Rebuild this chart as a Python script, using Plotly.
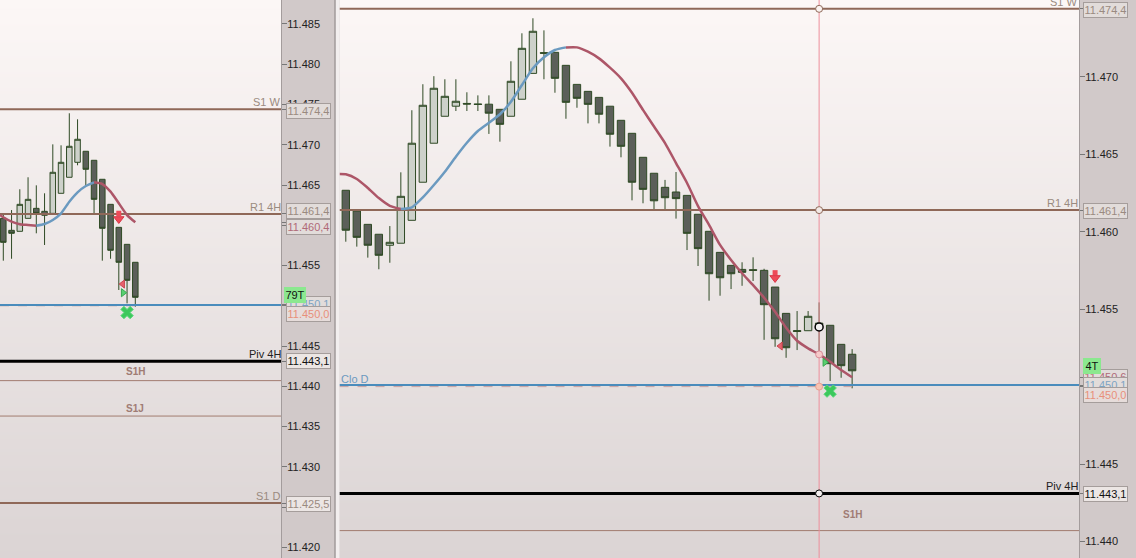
import plotly.graph_objects as go

W, H = 1136, 558

# ---- right panel data ----
r_open = [11.46268,11.46134,11.46048,11.45984,11.45913,11.45926,11.46074,11.46320,11.46572,11.46746,11.46811,11.46829,11.46826,11.46824,11.46791,11.46746,11.46856,11.47023,11.47157,11.47159,11.47075,11.46952,11.46907,11.46868,11.46811,11.46720,11.46636,11.46481,11.46378,11.46287,11.46257,11.46235,11.46113,11.46003,11.45867,11.45783,11.45757,11.45755,11.45751,11.45643,11.45473,11.45362,11.45361,11.45410,11.45396,11.45273,11.45209]
r_high = [11.46268,11.46134,11.46048,11.45984,11.46037,11.46384,11.46785,11.46953,11.47005,11.46985,11.46985,11.46901,11.46881,11.46881,11.46791,11.47101,11.47282,11.47379,11.47301,11.47159,11.47075,11.46952,11.46907,11.46868,11.46811,11.46720,11.46636,11.46481,11.46378,11.46335,11.46386,11.46235,11.46113,11.46003,11.45867,11.45783,11.45803,11.45835,11.45761,11.45643,11.45473,11.45488,11.45488,11.45544,11.45396,11.45273,11.45242]
r_low = [11.45936,11.45904,11.45833,11.45758,11.45800,11.45926,11.46074,11.46320,11.46572,11.46746,11.46780,11.46780,11.46780,11.46632,11.46582,11.46746,11.46856,11.47023,11.46985,11.46898,11.46730,11.46801,11.46700,11.46700,11.46550,11.46481,11.46203,11.46184,11.46141,11.46141,11.46085,11.45882,11.45779,11.45555,11.45587,11.45630,11.45651,11.45682,11.45302,11.45257,11.45186,11.45236,11.45361,11.45210,11.45036,11.45057,11.44989]
r_close = [11.46010,11.45964,11.45913,11.45848,11.45932,11.46229,11.46572,11.46817,11.46927,11.46875,11.46843,11.46825,11.46822,11.46766,11.46694,11.46972,11.47185,11.47295,11.47153,11.46991,11.46836,11.46862,11.46823,11.46759,11.46630,11.46552,11.46320,11.46274,11.46200,11.46220,11.46214,11.45990,11.45891,11.45729,11.45703,11.45729,11.45738,11.45751,11.45529,11.45309,11.45251,11.45356,11.45454,11.45398,11.45148,11.45135,11.45102]
r_index = list(range(len(r_open)))

r_ma_red1_x = [-0.57, 0, 1, 2, 3, 4, 5]
r_ma_red1 = [11.46373, 11.46371, 11.46341, 11.46283, 11.46218, 11.46168, 11.46147]
r_ma_blue_x = [5, 6, 7, 8, 9, 10, 11, 12, 13, 14, 15, 16, 17, 18, 19, 20]
r_ma_blue = [11.46147, 11.46158, 11.46222, 11.46302, 11.46388, 11.46485, 11.46575, 11.46651, 11.46704, 11.46759, 11.46840, 11.46948, 11.47056, 11.47127, 11.47174, 11.47191]
r_ma_red2_x = [20, 21, 22, 23, 24, 25, 26, 27, 28, 29, 30, 31, 32, 33, 34, 35, 36, 37, 38, 39, 40, 41, 42, 43, 44, 45, 46]
r_ma_red2 = [11.47191, 11.47191, 11.47163, 11.47120, 11.47060, 11.46991, 11.46898, 11.46787, 11.46680, 11.46573, 11.46444, 11.46315, 11.46166, 11.46044, 11.45915, 11.45818, 11.45732, 11.45656, 11.45574, 11.45483, 11.45380, 11.45296, 11.45247, 11.45208, 11.45160, 11.45107, 11.45060]

# ---- left panel data ----
l_open = [11.46086,11.45937,11.45925,11.46086,11.46210,11.46173,11.46148,11.46397,11.46596,11.46782,11.46919,11.46807,11.46571,11.46260,11.45974,11.45763,11.45540]
l_high = [11.46140,11.46189,11.46447,11.46596,11.46496,11.46397,11.47005,11.46993,11.47391,11.47316,11.46919,11.46807,11.46571,11.46260,11.45974,11.45763,11.45540]
l_low = [11.45560,11.45584,11.45925,11.46086,11.45900,11.45755,11.46148,11.46397,11.46596,11.46745,11.46484,11.46148,11.45560,11.45584,11.45196,11.45030,11.44988]
l_close = [11.45788,11.45900,11.46260,11.46322,11.46148,11.46124,11.46658,11.46782,11.46981,11.47068,11.46695,11.46322,11.45962,11.45689,11.45540,11.45316,11.45105]
l_index = list(range(len(l_open)))

l_ma_red1_x = [-0.4, 0, 1, 2, 3, 4]
l_ma_red1 = [11.46127, 11.46099, 11.46044, 11.46012, 11.46003, 11.45994]
l_ma_blue_x = [4, 5, 6, 7, 8, 9, 10, 11]
l_ma_blue = [11.45994, 11.46015, 11.46065, 11.46148, 11.46292, 11.46409, 11.46487, 11.46533]
l_ma_red2_x = [11, 12, 13, 14, 15, 16]
l_ma_red2 = [11.46533, 11.46512, 11.46417, 11.46273, 11.46127, 11.46037]

# ---- levels ----
level_s1w = 11.4744
level_r14h = 11.4614
level_ma_left = 11.4604
level_ma_right = 11.4506
level_clod = 11.4501
level_pending = 11.4500
level_piv = 11.4431
level_s1h = 11.4407
level_s1j = 11.4363
level_s1d = 11.4255

left_ticks = [11.485, 11.48, 11.475, 11.47, 11.465, 11.46, 11.455, 11.45, 11.445, 11.44, 11.435, 11.43, 11.425, 11.42]
left_tick_text = ["11.485", "11.480", "11.475", "11.470", "11.465", "11.460", "11.455", "11.450", "11.445", "11.440", "11.435", "11.430", "11.425", "11.420"]
right_ticks = [11.47, 11.465, 11.46, 11.455, 11.45, 11.445, 11.44]
right_tick_text = ["11.470", "11.465", "11.460", "11.455", "11.450", "11.445", "11.440"]
left_level_ticks = [level_s1w, level_r14h, level_ma_left, level_clod, level_piv, level_s1d]
right_level_ticks = [level_s1w, level_r14h, level_ma_right, level_clod, level_pending, level_piv]

# ---- signal markers ----
l_arrow_x, l_arrow_head, l_arrow_stem = [14], [11.46078], [11.46146]
l_tri_red_x, l_tri_red_y = [14.47], [11.4527]
l_tri_green_x, l_tri_green_y = [14.53], [11.45162]
l_cross_x, l_cross_y = [15], [11.44916]

r_arrow_x, r_arrow_head, r_arrow_stem = [39], [11.45702], [11.45734]
r_tri_red_x, r_tri_red_y = [39.49], [11.45262]
r_tri_green_x, r_tri_green_y = [43.52], [11.45157]
r_cross_x, r_cross_y = [44], [11.44971]

cursor_index = 43
cursor_levels = [11.4744, 11.4614, 11.45208, 11.4500, 11.4431]
cursor_fill = ["#fbf3f0", "#f3e9e6", "#f6c9c9", "#f6c4b4", "#f4eeee"]
cursor_edge = ["#8f6a5a", "#8f6a5a", "#d88c98", "#e8a090", "#000000"]
cursor_black_y = [11.45385]

left_dash_end = 16
right_dash_end = 46

# ---- styles ----
BROWN = "#8f6858"
THIN = "#a27c70"
RED = "#ad5668"
BLUE = "#6b9ac0"
LEVEL_BLUE = "#4a8cbc"
CANDLE_EDGE = "#2f4a25"
DARK = "#5b5f59"
LIGHT = "#cdd1ca"
LABEL = "#9a8a80"
STRIP = "#d1c9c9"
FONT = "Liberation Sans"

L_RANGE = [-0.4, 33.66]
R_RANGE = [-0.573, 66.61]
L_Y = [11.41867, 11.48798]
R_Y = [11.43893, 11.47497]


def px(x):
    return x / W


fig = go.Figure()


def background(xa, ya, xr, yr):
    fig.add_trace(go.Heatmap(
        x=xr, y=yr, z=[[0, 0], [1, 1]], xaxis=xa, yaxis=ya, zsmooth="best",
        showscale=False, hoverinfo="skip", zmin=0, zmax=1,
        colorscale=[[0, "#dbd4d4"], [1, "#fcf7f6"]]))


def candles(xa, ya, x, o, h, l, c):
    fig.add_trace(go.Candlestick(
        x=x, open=o, high=h, low=l, close=c, xaxis=xa, yaxis=ya, whiskerwidth=0,
        increasing=dict(fillcolor=LIGHT, line=dict(color=CANDLE_EDGE, width=1)),
        decreasing=dict(fillcolor=DARK, line=dict(color=CANDLE_EDGE, width=1))))


def line(xa, ya, x, y, color, width=2.5):
    fig.add_trace(go.Scatter(x=x, y=y, xaxis=xa, yaxis=ya, mode="lines",
                             line=dict(color=color, width=width, shape="spline", smoothing=0.6)))


def level(xa, ya, xr, y, color, width, dash="solid"):
    fig.add_trace(go.Scatter(x=xr, y=[y, y], xaxis=xa, yaxis=ya, mode="lines",
                             line=dict(color=color, width=width, dash=dash)))


def marks(xa, ya, x, y, symbol, size, color, edge=None, ew=1):
    fig.add_trace(go.Scatter(x=x, y=y, xaxis=xa, yaxis=ya, mode="markers",
                             marker=dict(symbol=symbol, size=size, color=color,
                                         line=dict(color=edge or color, width=ew))))


def signals(xa, ya, ax, ah, ast, trx, try_, tgx, tgy, cx, cy):
    marks(xa, ya, ax, ast, "line-ns", 4, "#ee4a58", "#ee4a58", 5)
    marks(xa, ya, ax, ah, "triangle-down", 9, "#ee4a58", "#d83848", 1)
    marks(xa, ya, trx, try_, "triangle-left", 7, "#e8606c", "#c84850", 1)
    marks(xa, ya, tgx, tgy, "triangle-right", 7, "#58d070", "#38a850", 1)
    marks(xa, ya, cx, cy, "x", 11, "#3cc85c", "#5cd87c", 1)


background("x", "y", [-5, 40], L_Y)
candles("x", "y", l_index, l_open, l_high, l_low, l_close)
level("x", "y", [L_RANGE[0], left_dash_end], level_pending, "#c8a0a0", 1, "dash")
level("x", "y", L_RANGE, level_clod, LEVEL_BLUE, 2)
level("x", "y", L_RANGE, level_s1w, BROWN, 2)
level("x", "y", L_RANGE, level_r14h, BROWN, 2)
level("x", "y", L_RANGE, level_piv, "#000000", 3)
level("x", "y", L_RANGE, level_s1h, THIN, 1)
level("x", "y", L_RANGE, level_s1j, THIN, 1)
level("x", "y", L_RANGE, level_s1d, BROWN, 2)
line("x", "y", l_ma_red1_x, l_ma_red1, RED)
line("x", "y", l_ma_blue_x, l_ma_blue, BLUE)
line("x", "y", l_ma_red2_x, l_ma_red2, RED)
signals("x", "y", l_arrow_x, l_arrow_head, l_arrow_stem, l_tri_red_x, l_tri_red_y,
        l_tri_green_x, l_tri_green_y, l_cross_x, l_cross_y)

background("x2", "y2", [-5, 70], R_Y)
candles("x2", "y2", r_index, r_open, r_high, r_low, r_close)
level("x2", "y2", [R_RANGE[0], right_dash_end], level_pending, "#c8a0a0", 1, "dash")
level("x2", "y2", R_RANGE, level_clod, LEVEL_BLUE, 2)
level("x2", "y2", R_RANGE, level_s1w, BROWN, 2)
level("x2", "y2", R_RANGE, level_r14h, BROWN, 2)
level("x2", "y2", R_RANGE, level_piv, "#000000", 3)
level("x2", "y2", R_RANGE, level_s1h, THIN, 1)
fig.add_trace(go.Scatter(x=[cursor_index, cursor_index], y=R_Y, xaxis="x2", yaxis="y2", mode="lines",
                         line=dict(color="#ee8f9c", width=1)))
line("x2", "y2", r_ma_red1_x, r_ma_red1, RED)
line("x2", "y2", r_ma_blue_x, r_ma_blue, BLUE)
line("x2", "y2", r_ma_red2_x, r_ma_red2, RED)
signals("x2", "y2", r_arrow_x, r_arrow_head, r_arrow_stem, r_tri_red_x, r_tri_red_y,
        r_tri_green_x, r_tri_green_y, r_cross_x, r_cross_y)
marks("x2", "y2", [cursor_index] * len(cursor_levels), cursor_levels, "circle", 7, cursor_fill, cursor_edge, 1)
marks("x2", "y2", [cursor_index], cursor_black_y, "circle", 8, "#f4f2f2", "#000000", 1.5)

shapes = [
    dict(type="rect", xref="paper", yref="paper", x0=px(335), x1=px(339.5), y0=0, y1=1,
         fillcolor="#f2eeee", line=dict(width=0), layer="below"),
    dict(type="line", xref="paper", yref="paper", x0=px(335), x1=px(335), y0=0, y1=1,
         line=dict(color="#a09a9a", width=1.5), layer="below"),
]

annotations = []


def tag(text, x, ya, y, color, bg="#e2dcda", border="#a59d9b", yshift=0, w=43, h=14, size=11):
    annotations.append(dict(
        text=text, xref="paper", x=px(x), yref=ya, y=y, xanchor="center", yanchor="middle", yshift=yshift,
        showarrow=False, width=w, height=h, bgcolor=bg, bordercolor=border, borderwidth=1,
        font=dict(family=FONT, size=size, color=color), align="center", borderpad=0))


def label(text, x, ya, y, color, anchor="right", yshift=0, size=11, bold=False):
    t = f"<b>{text}</b>" if bold else text
    annotations.append(dict(
        text=t, xref="paper", x=px(x), yref=ya, y=y, xanchor=anchor, yanchor="middle", yshift=yshift,
        showarrow=False, font=dict(family=FONT, size=size, color=color), borderpad=0, borderwidth=0))


# left labels
label("S1 W", 280.5, "y", level_s1w, LABEL, yshift=7)
label("R1 4H", 280.5, "y", level_r14h, LABEL, yshift=7)
label("Piv 4H", 280.5, "y", level_piv, "#222222", yshift=7)
label("S1 D", 280.5, "y", level_s1d, LABEL, yshift=7)
label("S1H", 135, "y", level_s1h, "#a07c74", "center", yshift=9, size=10, bold=True)
label("S1J", 135, "y", level_s1j, "#a07c74", "center", yshift=7.5, size=10, bold=True)
tag("11.474,4", 308, "y", level_s1w, LABEL, yshift=-1.5)
tag("11.461,4", 308, "y", level_r14h, LABEL, yshift=3)
tag("11.460,4", 308, "y", level_ma_left, "#b06a78", yshift=-5)
tag("11.450,1", 308, "y", level_clod, "#7ea4c4", yshift=1)
tag("11.450,0", 308, "y", level_pending, "#e8907a", bg="#e6dcda", yshift=-8.5)
tag("79T", 295.5, "y", level_clod, "#111111", bg="#8be88f", border="#8be88f", yshift=10, w=20, h=14)
tag("11.443,1", 308, "y", level_piv, "#111111", bg="#ece6e4", yshift=0)
tag("11.425,5", 308, "y", level_s1d, LABEL, bg="#ece6e4", yshift=-0.5)
# right labels
label("S1 W", 1078, "y2", level_s1w, LABEL, yshift=7)
label("R1 4H", 1078, "y2", level_r14h, LABEL, yshift=7)
label("Piv 4H", 1078, "y2", level_piv, "#222222", yshift=7)
label("S1H", 852, "y2", level_s1h, "#a07c74", "center", yshift=16, size=10, bold=True)
label("Clo D", 340.5, "y2", level_clod, "#6b9ac0", "left", yshift=6, size=11)
tag("11.474,4", 1105.5, "y2", level_s1w, LABEL, yshift=-1)
tag("11.461,4", 1105.5, "y2", level_r14h, LABEL, yshift=-1)
tag("11.450,6", 1105.5, "y2", level_ma_right, "#b06a78", yshift=0)
tag("11.450,1", 1105.5, "y2", level_clod, "#7ea4c4", yshift=0)
tag("11.450,0", 1105.5, "y2", level_pending, "#e8907a", bg="#e6dcda", yshift=-8)
tag("4T", 1091.5, "y2", level_ma_right, "#111111", bg="#8be88f", border="#8be88f", yshift=11, w=16, h=14)
tag("11.443,1", 1105.5, "y2", level_piv, "#111111", bg="#ece6e4", yshift=-1)


def yaxis(rng, ticks, text, extra, dom_anchor):
    return dict(range=rng, tickmode="array", tickvals=ticks + extra, ticktext=text + [""] * len(extra),
                side="right", anchor=dom_anchor,
                showgrid=False, zeroline=False, showline=True, linecolor="#a39c9c", linewidth=1,
                ticks="outside", ticklen=5, tickcolor="#777777", tickwidth=1, ticklabelstandoff=-2,
                tickfont=dict(family=FONT, size=11, color="#222222"), fixedrange=True)


def xaxis(rng, dom):
    return dict(range=rng, domain=dom, visible=False, rangeslider=dict(visible=False), fixedrange=True)


fig.update_layout(
    width=W, height=H, margin=dict(l=0, r=0, t=0, b=0, pad=0),
    paper_bgcolor=STRIP, plot_bgcolor="#eee8e8", showlegend=False,
    boxgap=0.33, boxgroupgap=0,
    xaxis=xaxis(L_RANGE, [0, px(281)]), xaxis2=xaxis(R_RANGE, [px(339.5), px(1079)]),
    yaxis=yaxis(L_Y, left_ticks, left_tick_text, left_level_ticks, "x"),
    yaxis2=yaxis(R_Y, right_ticks, right_tick_text, right_level_ticks, "x2"),
    shapes=shapes, annotations=annotations,
    font=dict(family=FONT),
)

fig.write_html("out.html", config={"displayModeBar": False},
               post_script="document.body.style.margin='0';document.body.style.overflow='hidden';")
